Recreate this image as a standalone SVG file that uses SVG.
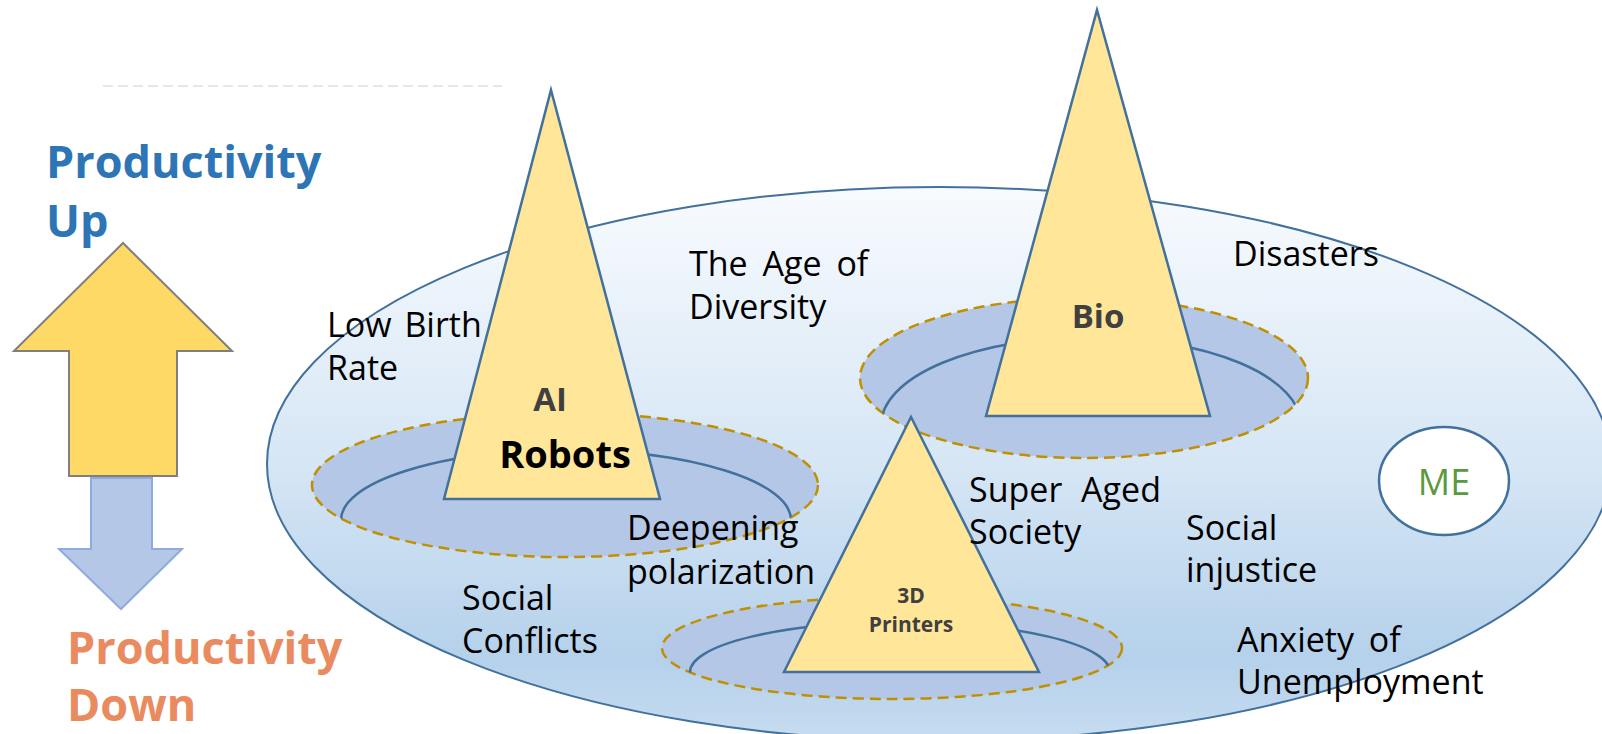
<svg xmlns="http://www.w3.org/2000/svg" width="1602" height="734" viewBox="0 0 1602 734">
  <defs>
    <linearGradient id="fieldFill" x1="0" y1="0" x2="0" y2="1">
      <stop offset="0" stop-color="#f8fbfe"/>
      <stop offset="0.5" stop-color="#d6e6f5"/>
      <stop offset="0.85" stop-color="#b5d1eb"/>
      <stop offset="1" stop-color="#c6dcf0"/>
    </linearGradient>
    <clipPath id="clipAI"><ellipse cx="565" cy="485" rx="253" ry="72"/></clipPath>
    <clipPath id="clipBio"><ellipse cx="1084" cy="378" rx="224" ry="80"/></clipPath>
    <clipPath id="clip3D"><ellipse cx="892" cy="648" rx="230" ry="51"/></clipPath>
  </defs>
  <style>
    .field { fill: url(#fieldFill); stroke: #41719c; stroke-width: 2; }
    .hole { fill: #b4c7e7; stroke: #bf9000; stroke-width: 2.5; stroke-dasharray: 11 6; }
    .rim { fill: none; stroke: #41719c; stroke-width: 2.5; }
    .peak { fill: #ffe699; stroke: #41719c; stroke-width: 2.5; stroke-linejoin: miter; }
    .label { font-family: "Open Sans", "Noto Sans", sans-serif; font-size: 34px; fill: #000; }
    .peakname { font-family: "Open Sans", "Noto Sans", sans-serif; font-weight: bold; fill: #404040; text-anchor: middle; }
    .head { font-family: "Open Sans", "Noto Sans", sans-serif; font-weight: bold; font-size: 45px; }
  </style>

  <!-- dashed guide line at the top -->
  <line x1="103" y1="86" x2="502" y2="86" stroke="#d0d0d0" stroke-width="1.2" stroke-dasharray="10 5"/>

  <!-- productivity arrows and captions -->
  <g id="productivity-up">
    <polygon points="123,243 232,351 177,351 177,476 69,476 69,351 14,351" fill="#ffd966" stroke="#7f7f7f" stroke-width="2"/>
    <text class="head" fill="#2e75b6" x="46" y="178">Productivity</text>
    <text class="head" fill="#2e75b6" x="46" y="237">Up</text>
  </g>
  <g id="productivity-down">
    <polygon points="91,478 152,478 152,549 182,549 121,609 59,549 91,549" fill="#b4c7e7" stroke="#8faadc" stroke-width="2"/>
    <text class="head" fill="#ea8a5f" x="67" y="664">Productivity</text>
    <text class="head" fill="#ea8a5f" x="67" y="721">Down</text>
  </g>

  <!-- society field -->
  <g id="society">
    <ellipse class="field" cx="939" cy="464" rx="672" ry="277"/>
  </g>

  <!-- sink holes around each technology -->
  <g id="hole-ai">
    <ellipse class="hole" cx="565" cy="485" rx="253" ry="72"/>
    <ellipse class="rim" cx="566" cy="520" rx="225" ry="70" clip-path="url(#clipAI)"/>
  </g>
  <g id="hole-bio">
    <ellipse class="hole" cx="1084" cy="378" rx="224" ry="80"/>
    <ellipse class="rim" cx="1091" cy="425" rx="210" ry="88" clip-path="url(#clipBio)"/>
  </g>
  <g id="hole-3d">
    <ellipse class="hole" cx="892" cy="648" rx="230" ry="51"/>
    <ellipse class="rim" cx="900" cy="672" rx="210" ry="50" clip-path="url(#clip3D)"/>
  </g>

  <!-- technology peaks -->
  <g id="ai-robots">
    <polygon class="peak" points="551,90 660,499 444,499"/>
    <text class="peakname" x="550" y="411" font-size="33">AI</text>
    <text class="peakname" x="565" y="468" font-size="38" style="fill:#000">Robots</text>
  </g>
  <g id="bio">
    <polygon class="peak" points="1097,10 1210,416 986,416"/>
    <text class="peakname" x="1098" y="328" font-size="33">Bio</text>
  </g>
  <g id="printers-3d">
    <polygon class="peak" points="911,417 1039,672 784,672"/>
    <text class="peakname" x="911" y="603" font-size="21">3D</text>
    <text class="peakname" x="911" y="632" font-size="21">Printers</text>
  </g>

  <!-- social issues -->
  <g id="low-birth-rate">
    <text class="label" x="327" y="337" word-spacing="4">Low Birth</text>
    <text class="label" x="327" y="380">Rate</text>
  </g>
  <g id="age-of-diversity">
    <text class="label" x="689" y="276" word-spacing="6">The Age of</text>
    <text class="label" x="689" y="319">Diversity</text>
  </g>
  <g id="disasters">
    <text class="label" x="1233" y="266">Disasters</text>
  </g>
  <g id="deepening-polarization">
    <text class="label" x="627" y="540">Deepening</text>
    <text class="label" x="627" y="584">polarization</text>
  </g>
  <g id="super-aged-society">
    <text class="label" x="969" y="502" word-spacing="10">Super Aged</text>
    <text class="label" x="969" y="544">Society</text>
  </g>
  <g id="social-injustice">
    <text class="label" x="1186" y="540">Social</text>
    <text class="label" x="1186" y="582">injustice</text>
  </g>
  <g id="social-conflicts">
    <text class="label" x="462" y="610">Social</text>
    <text class="label" x="462" y="653">Conflicts</text>
  </g>
  <g id="anxiety-of-unemployment">
    <text class="label" x="1237" y="652" word-spacing="6">Anxiety of</text>
    <text class="label" x="1237" y="694">Unemployment</text>
  </g>

  <!-- the individual -->
  <g id="me">
    <ellipse cx="1444" cy="481" rx="65" ry="54" fill="#ffffff" stroke="#41719c" stroke-width="2.5"/>
    <text x="1444" y="495" text-anchor="middle" font-family="Open Sans, Noto Sans, sans-serif" font-size="36" fill="#5b9a3c">ME</text>
  </g>
</svg>
